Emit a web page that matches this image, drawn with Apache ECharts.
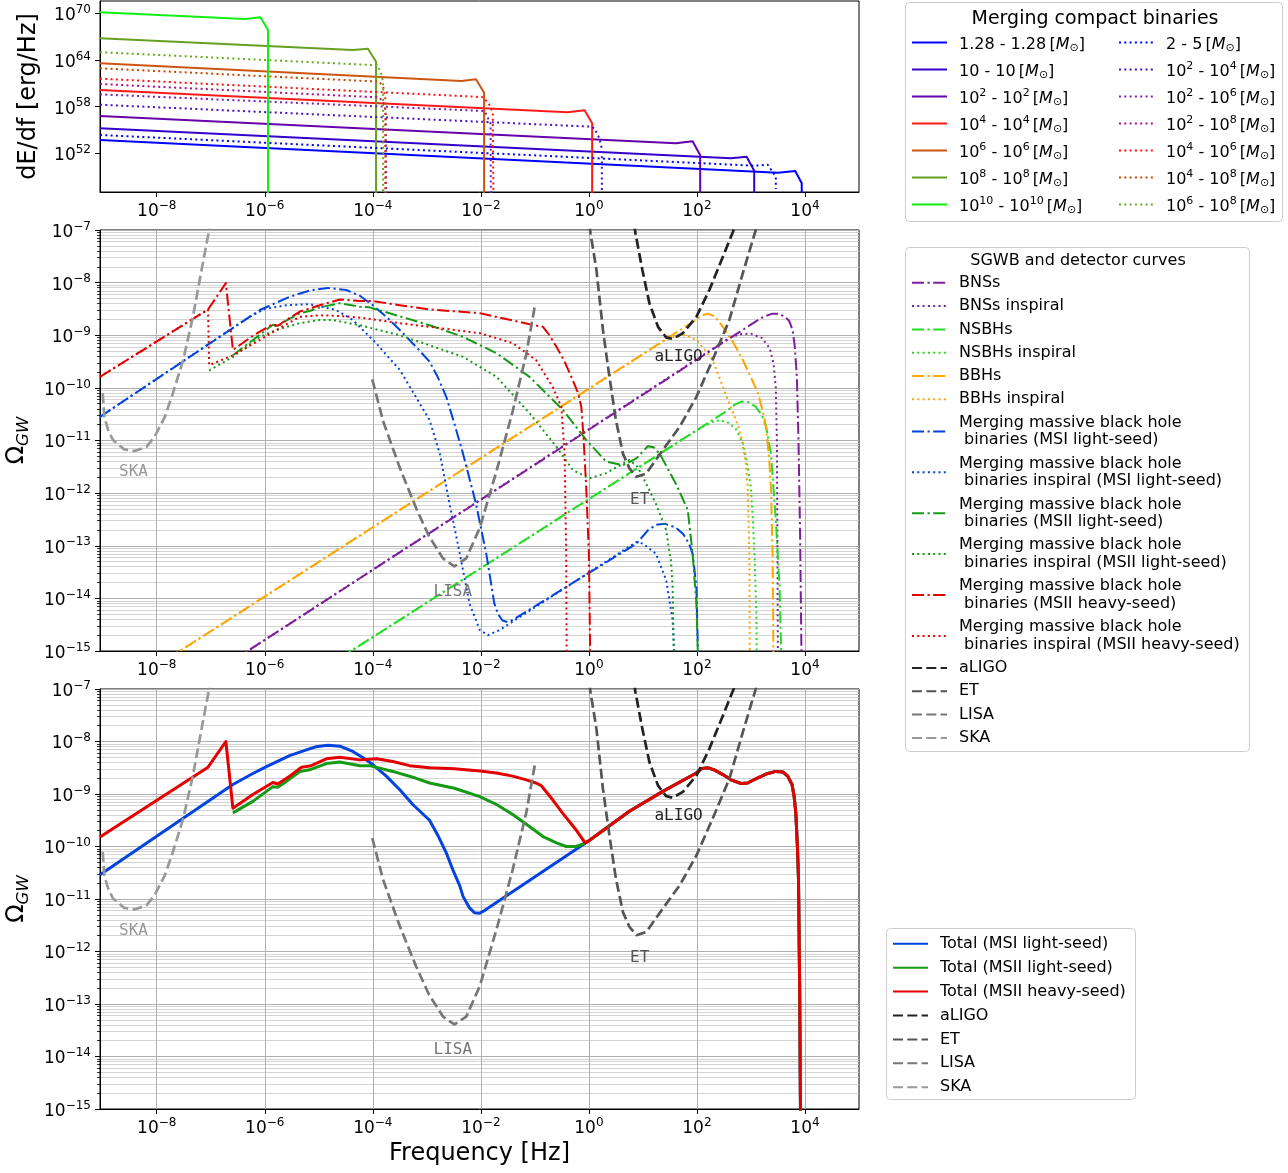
<!DOCTYPE html>
<html>
<head>
<meta charset="utf-8">
<title>SGWB from merging compact binaries</title>
<script src="https://cdn.jsdelivr.net/npm/echarts@6/dist/echarts.min.js"></script>
<style>
  html, body { margin: 0; padding: 0; background: #fff; overflow: hidden; }
  #chart { width: 1288px; height: 1173px; }
</style>
</head>
<body>
<div id="chart"></div>
<script>
// every curve is a list of [log10 f, log10 value] pairs

// top panel: dE/df of single merging binaries
const eq128 = [[-9.05, 53.71], [3.5, 49.51], [3.82, 49.73], [3.94, 48.15], [3.94, 40]]
const eq10 = [[-9.05, 55.21], [2.63, 51.36], [2.92, 51.57], [3.06, 49.77], [3.06, 40]]
const eq1e2 = [[-9.05, 56.8], [1.61, 53.29], [1.92, 53.55], [2.06, 51.75], [2.06, 40]]
const eq1e4 = [[-9.05, 60.14], [-0.39, 57.27], [-0.08, 57.53], [0.06, 55.86], [0.06, 40]]
const eq1e6 = [[-9.05, 63.57], [-2.36, 61.3], [-2.09, 61.52], [-1.94, 59.79], [-1.94, 40]]
const eq1e8 = [[-9.05, 66.79], [-4.37, 65.28], [-4.09, 65.45], [-3.94, 63.78], [-3.94, 40]]
const eq1e10 = [[-9.05, 70.13], [-6.37, 69.27], [-6.08, 69.49], [-5.94, 67.85], [-5.94, 40]]
const mix2_5 = [[-9.05, 54.36], [3.06, 50.41], [3.31, 50.54], [3.46, 49.0], [3.46, 47.4]]
const mix1e2_1e4 = [[-9.05, 58.25], [0.02, 55.43], [0.1, 55.25], [0.19, 54.0], [0.24, 52.6], [0.24, 40]]
const mix1e2_1e6 = [[-9.05, 59.58], [-1.93, 57.44], [-1.88, 56.7], [-1.82, 55.8], [-1.81, 40]]
const mix1e2_1e8 = [[-9.05, 60.91], [-4.0, 59.23], [-3.88, 59.22], [-3.8, 58.4], [-3.76, 57.4], [-3.75, 40]]
const mix1e4_1e6 = [[-9.05, 61.59], [-2.09, 59.27], [-1.97, 59.22], [-1.86, 58.5], [-1.78, 57.3], [-1.76, 40]]
const mix1e4_1e8 = [[-9.05, 62.93], [-4.0, 61.25], [-3.88, 61.24], [-3.8, 60.4], [-3.77, 59.3], [-3.77, 40]]
const mix1e6_1e8 = [[-9.05, 64.99], [-4.05, 63.35], [-3.93, 63.4], [-3.85, 62.4], [-3.81, 61.2], [-3.81, 40]]

const equalNames = ['1.28 - 1.28', '10 - 10', '10^2 - 10^2', '10^4 - 10^4', '10^6 - 10^6', '10^8 - 10^8', '10^10 - 10^10']
const mixedNames = ['2 - 5', '10^2 - 10^4', '10^2 - 10^6', '10^2 - 10^8', '10^4 - 10^6', '10^4 - 10^8', '10^6 - 10^8']

// middle panel: SGWB of each population
const bns = [[-6.6, -15.19], [3.1, -8.73], [3.25, -8.64], [3.4, -8.59], [3.5, -8.59], [3.62, -8.64], [3.71, -8.73], [3.77, -8.9], [3.81, -9.2], [3.85, -9.8], [3.88, -11.0], [3.91, -12.8], [3.94, -15.5]]
const bnsInspiral = [[-6.6, -15.19], [2.6, -9.05], [2.8, -8.98], [3.0, -8.97], [3.2, -9.05], [3.35, -9.25], [3.42, -9.55], [3.46, -10.0], [3.48, -11.0], [3.49, -13.0], [3.5, -15.5]]
const nsbh = [[-4.6, -15.13], [2.55, -10.44], [2.7, -10.32], [2.82, -10.26], [2.95, -10.27], [3.09, -10.36], [3.2, -10.52], [3.28, -10.74], [3.37, -11.25], [3.46, -12.51], [3.53, -13.78], [3.57, -15.5]]
const nsbhInspiral = [[-4.6, -15.13], [2.1, -10.74], [2.35, -10.62], [2.55, -10.64], [2.72, -10.78], [2.85, -11.05], [2.94, -11.5], [3.0, -11.9], [3.04, -12.6], [3.07, -13.3], [3.1, -14.3], [3.11, -15.5]]
const bbh = [[-7.8, -15.15], [1.95, -8.73], [2.08, -8.63], [2.2, -8.59], [2.33, -8.64], [2.48, -8.84], [2.65, -9.1], [2.85, -9.47], [3.0, -9.8], [3.13, -10.1], [3.22, -10.45], [3.28, -10.74], [3.34, -11.4], [3.37, -11.88], [3.4, -13.15], [3.42, -15.5]]
const bbhInspiral = [[-7.8, -15.15], [1.4, -9.1], [1.6, -9.02], [1.8, -9.0], [2.0, -9.1], [2.15, -9.28], [2.29, -9.47], [2.45, -9.9], [2.6, -10.3], [2.72, -10.6], [2.82, -10.93], [2.9, -11.4], [2.94, -11.88], [2.97, -13.15], [2.98, -15.5]]
const msi = [[-9.05, -10.55], [-6.09, -8.52], [-5.54, -8.27], [-5.17, -8.15], [-4.83, -8.1], [-4.49, -8.14], [-4.24, -8.25], [-4.0, -8.43], [-3.75, -8.65], [-3.5, -8.9], [-3.2, -9.22], [-2.95, -9.5], [-2.8, -9.79], [-2.64, -10.17], [-2.49, -10.68], [-2.33, -11.25], [-2.09, -12.2], [-1.9, -13.15], [-1.75, -14.1], [-1.68, -14.3], [-1.6, -14.42], [-1.5, -14.45], [-1.41, -14.41], [0.88, -12.96], [1.1, -12.7], [1.25, -12.6], [1.4, -12.58], [1.6, -12.65], [1.74, -12.77], [1.85, -12.95], [1.92, -13.15], [1.99, -13.78], [2.03, -15.5]]
const msiInspiral = [[-9.05, -10.55], [-6.3, -8.66], [-6.0, -8.5], [-5.6, -8.43], [-5.17, -8.41], [-4.68, -8.52], [-4.37, -8.71], [-3.94, -9.15], [-3.5, -9.66], [-2.95, -10.61], [-2.76, -11.25], [-2.58, -12.2], [-2.39, -13.15], [-2.21, -14.1], [-2.02, -14.6], [-1.87, -14.7], [-1.65, -14.6], [-1.47, -14.48], [0.88, -12.93], [1.0, -12.96], [1.24, -13.15], [1.43, -13.65], [1.55, -14.41], [1.6, -15.5]]
const msii = [[-6.59, -9.38], [-6.09, -8.99], [-5.85, -8.8], [-5.76, -8.84], [-5.6, -8.72], [-5.35, -8.58], [-5.17, -8.54], [-4.98, -8.47], [-4.61, -8.39], [-4.24, -8.46], [-4.06, -8.47], [-3.63, -8.6], [-2.95, -8.81], [-2.33, -9.03], [-1.71, -9.34], [-1.1, -9.79], [-0.48, -10.42], [-0.05, -10.99], [0.32, -11.4], [0.63, -11.47], [0.88, -11.34], [1.09, -11.11], [1.2, -11.13], [1.31, -11.25], [1.61, -11.82], [1.83, -12.32], [1.92, -13.15], [1.99, -14.1], [2.03, -15.5]]
const msiiInspiral = [[-7.03, -9.67], [-6.59, -9.41], [-6.09, -9.03], [-5.79, -8.9], [-5.35, -8.77], [-4.98, -8.71], [-4.74, -8.71], [-4.24, -8.81], [-3.5, -9.0], [-2.95, -9.19], [-2.33, -9.41], [-1.71, -9.79], [-1.1, -10.48], [-0.6, -11.12], [-0.3, -11.56], [0.01, -11.72], [0.32, -11.62], [0.75, -11.37], [0.9, -11.5], [1.06, -11.82], [1.24, -12.2], [1.43, -12.7], [1.52, -13.3], [1.55, -13.78], [1.58, -15.5]]
const msiiHeavy = [[-9.05, -9.79], [-7.05, -8.51], [-6.72, -8.01], [-6.59, -9.28], [-6.22, -9.01], [-5.85, -8.79], [-5.76, -8.82], [-5.54, -8.67], [-5.35, -8.55], [-5.14, -8.48], [-4.98, -8.43], [-4.61, -8.32], [-4.24, -8.35], [-4.0, -8.35], [-3.5, -8.43], [-2.95, -8.51], [-2.02, -8.58], [-1.1, -8.79], [-0.85, -8.84], [-0.73, -9.0], [-0.6, -9.22], [-0.45, -9.5], [-0.3, -9.85], [-0.2, -10.1], [-0.14, -10.36], [-0.1, -10.93], [-0.05, -11.88], [0.0, -13.15], [0.03, -15.5]]
const msiiHeavyInspiral = [[-9.05, -9.79], [-7.05, -8.51], [-7.03, -9.57], [-6.59, -9.38], [-6.09, -9.09], [-5.7, -8.85], [-5.35, -8.65], [-4.98, -8.62], [-4.5, -8.64], [-4.12, -8.68], [-3.5, -8.77], [-2.95, -8.84], [-2.02, -8.96], [-1.41, -9.15], [-0.98, -9.47], [-0.67, -9.98], [-0.51, -10.36], [-0.45, -11.25], [-0.42, -13.15], [-0.41, -15.5]]

// detector sensitivity curves (both lower panels)
const aligo = [[0.84, -6.9], [0.86, -7.05], [0.99, -7.76], [1.12, -8.39], [1.28, -8.84], [1.43, -9.04], [1.55, -9.07], [1.74, -8.96], [1.99, -8.65], [2.23, -8.14], [2.48, -7.51], [2.68, -7.0], [2.72, -6.9]]
const et = [[0.01, -6.9], [0.03, -7.06], [0.14, -7.76], [0.26, -8.9], [0.38, -9.79], [0.5, -10.61], [0.63, -11.25], [0.75, -11.53], [0.88, -11.69], [1.06, -11.63], [1.37, -11.18], [1.68, -10.74], [1.99, -10.17], [2.29, -9.47], [2.6, -8.71], [2.85, -7.82], [3.08, -7.03], [3.12, -6.9]]
const lisa = [[-4.01, -9.84], [-3.81, -10.63], [-3.5, -11.52], [-3.2, -12.28], [-2.96, -12.82], [-2.7, -13.24], [-2.49, -13.39], [-2.27, -13.24], [-2.02, -12.66], [-1.71, -11.58], [-1.41, -10.44], [-1.16, -9.36], [-1.0, -8.44]]
const ska = [[-9.0, -10.1], [-8.97, -10.55], [-8.9, -10.8], [-8.81, -10.99], [-8.6, -11.17], [-8.41, -11.2], [-8.19, -11.12], [-8.04, -10.93], [-7.85, -10.55], [-7.7, -10.1], [-7.51, -9.47], [-7.33, -8.65], [-7.17, -7.76], [-7.03, -7.0], [-6.98, -6.7]]
const detectorNames = ['aLIGO', 'ET', 'LISA', 'SKA']
const detectorLabelF = [1.66, 0.94, -2.52, -8.43]
const detectorLabelOmega = [-9.41, -12.13, -13.88, -11.6]

// bottom panel: totals, sharing the high-frequency tail
const totalMsi = [[-9.05, -10.54], [-6.59, -8.82], [-6.22, -8.61], [-5.97, -8.48], [-5.54, -8.27], [-5.23, -8.16], [-5.05, -8.1], [-4.83, -8.07], [-4.61, -8.09], [-4.37, -8.19], [-4.18, -8.31], [-4.0, -8.44], [-3.75, -8.66], [-3.5, -8.92], [-3.26, -9.2], [-2.95, -9.5], [-2.8, -9.78], [-2.64, -10.12], [-2.52, -10.44], [-2.39, -10.75], [-2.33, -10.95], [-2.21, -11.17], [-2.12, -11.26], [-2.02, -11.27], [-1.93, -11.22], [-1.85, -11.16]]
const totalMsii = [[-6.59, -9.36], [-6.22, -9.14], [-5.85, -8.86], [-5.76, -8.87], [-5.6, -8.76], [-5.35, -8.57], [-5.17, -8.54], [-4.86, -8.42], [-4.61, -8.39], [-4.24, -8.46], [-4.06, -8.46], [-3.63, -8.57], [-3.26, -8.68], [-2.95, -8.79], [-2.49, -8.89], [-2.02, -9.05], [-1.71, -9.2], [-1.41, -9.39], [-1.1, -9.62], [-0.85, -9.81], [-0.6, -9.93], [-0.42, -10.0], [-0.24, -10.0], [-0.1, -9.95]]
const totalMsiiHeavy = [[-9.05, -9.82], [-7.05, -8.49], [-6.72, -8.0], [-6.59, -9.27], [-6.22, -9.01], [-5.85, -8.78], [-5.76, -8.81], [-5.54, -8.66], [-5.32, -8.49], [-5.14, -8.46], [-4.86, -8.33], [-4.61, -8.3], [-4.24, -8.35], [-3.93, -8.33], [-3.63, -8.38], [-3.32, -8.46], [-2.95, -8.5], [-2.49, -8.52], [-2.02, -8.56], [-1.71, -8.6], [-1.41, -8.66], [-1.16, -8.73], [-0.98, -8.79], [-0.88, -8.84], [-0.82, -8.92], [-0.67, -9.11], [-0.49, -9.36], [-0.24, -9.68], [-0.07, -9.93]]
const totalTail = [[0.0, -9.89], [0.75, -9.33], [1.37, -8.95], [1.99, -8.6], [2.08, -8.52], [2.2, -8.5], [2.32, -8.54], [2.48, -8.63], [2.63, -8.73], [2.82, -8.8], [2.94, -8.79], [3.09, -8.71], [3.28, -8.62], [3.46, -8.57], [3.59, -8.58], [3.68, -8.66], [3.76, -8.82], [3.8, -9.05], [3.83, -9.36], [3.86, -10.0], [3.88, -10.63], [3.9, -12.54], [3.92, -15.5]]

// axes (log10 units)
const freqTicks = [-8, -6, -4, -2, 0, 2, 4]
const energyTicks = [52, 58, 64, 70]
const omegaTicks = [-15, -14, -13, -12, -11, -10, -9, -8, -7]

const FONT = 'DejaVu Sans'
const MONO = 'DejaVu Sans Mono'
const DASHDOT = [12, 3.5, 2.2, 3.5]
const DOTTED = [2, 3.3]
const DASHED = [10, 4.3]

const omegaMinor = []
for (let n = -15; n < -7; n++) {
  for (let k = 2; k <= 9; k++) omegaMinor.push(n + Math.log10(k))
}

const tickRich = {
  b: { fontFamily: FONT, fontSize: 17, lineHeight: 22, verticalAlign: 'bottom', color: '#000' },
  sup: { fontFamily: FONT, fontSize: 12, lineHeight: 22, verticalAlign: 'top', padding: [1.6, 0, 0, 0], color: '#000' },
}
const pow10 = (v) => {
  const e = Math.round(v)
  return `{b|10}{sup|${e < 0 ? '\u2212' + -e : e}}`
}

const massRich = {
  b: { fontFamily: FONT, fontSize: 16, lineHeight: 21, verticalAlign: 'bottom', color: '#000' },
  it: { fontFamily: FONT, fontSize: 16, fontStyle: 'italic', lineHeight: 21, verticalAlign: 'bottom', color: '#000' },
  sup: { fontFamily: FONT, fontSize: 11, lineHeight: 21, verticalAlign: 'top', padding: [2, 0, 0, 0], color: '#000' },
  sub: { fontFamily: FONT, fontSize: 11, lineHeight: 21, verticalAlign: 'top', padding: [10.5, 0, 0, 0], color: '#000' },
}
const massLabel = (name) =>
  name.split(/\^(\d+)/).map((part, i) => (i % 2 ? `{sup|${part}}` : `{b|${part}}`)).join('') +
  '{b|\u2009[}{it|M}{sub|\u2299}{b|]}'

const line = (name, data, xi, yi, color, width, dash) => ({
  name,
  type: 'line',
  data,
  xAxisIndex: xi,
  yAxisIndex: yi,
  symbol: 'none',
  showSymbol: false,
  silent: true,
  clip: true,
  emphasis: { disabled: true },
  lineStyle: { color, width, type: dash || 'solid', cap: 'butt', join: 'round' },
  itemStyle: { color },
})

const freqAxis = (gridIndex, name) => ({
  type: 'value',
  gridIndex,
  min: -9.05,
  max: 5.0,
  axisLine: { show: true, onZero: false, lineStyle: { color: '#000', width: 1 } },
  axisTick: { show: true, customValues: freqTicks, length: 5, lineStyle: { color: '#000', width: 1 } },
  axisLabel: { customValues: freqTicks, formatter: pow10, rich: tickRich, margin: 6 },
  splitLine: { show: gridIndex > 0, lineStyle: { color: '#b0b0b0', width: 1 } },
  name,
  nameLocation: 'middle',
  nameGap: 31,
  nameTextStyle: { fontFamily: FONT, fontSize: 24, lineHeight: 28, color: '#000' },
})

const omegaAxis = (gridIndex, minor) => ({
  type: 'value',
  gridIndex,
  min: -15,
  max: -7,
  position: 'left',
  axisLine: { show: !minor, onZero: false, lineStyle: { color: '#000', width: 1 } },
  axisTick: {
    show: true,
    customValues: minor ? omegaMinor : omegaTicks,
    length: minor ? 3 : 5,
    lineStyle: { color: '#000', width: minor ? 0.8 : 1 },
  },
  axisLabel: { show: !minor, customValues: omegaTicks, formatter: pow10, rich: tickRich, margin: 9 },
  splitLine: { show: true, lineStyle: { color: minor ? '#c8c8c8' : '#b0b0b0', width: minor ? 0.8 : 1 } },
  name: minor ? '' : '{o|\u03a9}{s|GW}',
  nameLocation: 'middle',
  nameGap: 71,
  nameTextStyle: {
    rich: {
      o: { fontFamily: FONT, fontSize: 24, lineHeight: 30, verticalAlign: 'bottom', color: '#000' },
      s: { fontFamily: FONT, fontSize: 16.5, fontStyle: 'italic', lineHeight: 30, verticalAlign: 'top', padding: [16.6, 0, 0, 0], color: '#000' },
    },
  },
})

const energyAxis = {
  type: 'value',
  gridIndex: 0,
  min: 47.03,
  max: 71.58,
  axisLine: { show: true, onZero: false, lineStyle: { color: '#000', width: 1 } },
  axisTick: { show: true, customValues: energyTicks, length: 5, lineStyle: { color: '#000', width: 1 } },
  axisLabel: { customValues: energyTicks, formatter: pow10, rich: tickRich, margin: 9 },
  splitLine: { show: false },
  name: 'dE/df [erg/Hz]',
  nameLocation: 'middle',
  nameGap: 50,
  nameTextStyle: { fontFamily: FONT, fontSize: 24, lineHeight: 28, color: '#000' },
}

const equalColors = ['#0000ff', '#3300cc', '#6600aa', '#ff1a1a', '#cc5511', '#66a022', '#11ee11']
const mixedColors = ['#0000ff', '#4411cc', '#7722bb', '#aa1188', '#ff1111', '#cc4400', '#66aa22']
const equalData = [eq128, eq10, eq1e2, eq1e4, eq1e6, eq1e8, eq1e10]
const mixedData = [mix2_5, mix1e2_1e4, mix1e2_1e6, mix1e2_1e8, mix1e4_1e6, mix1e4_1e8, mix1e6_1e8]

const MBH = 'Merging massive black hole\n binaries'
const populations = [
  ['BNSs', bns, '#7e1e9c', DASHDOT],
  ['BNSs inspiral', bnsInspiral, '#7e1e9c', DOTTED],
  ['NSBHs', nsbh, '#22dd22', DASHDOT],
  ['NSBHs inspiral', nsbhInspiral, '#22dd22', DOTTED],
  ['BBHs', bbh, '#ffa500', DASHDOT],
  ['BBHs inspiral', bbhInspiral, '#ffa500', DOTTED],
  [`${MBH} (MSI light-seed)`, msi, '#0343df', DASHDOT],
  [`${MBH} inspiral (MSI light-seed)`, msiInspiral, '#0343df', DOTTED],
  [`${MBH} (MSII light-seed)`, msii, '#159a15', DASHDOT],
  [`${MBH} inspiral (MSII light-seed)`, msiiInspiral, '#159a15', DOTTED],
  [`${MBH} (MSII heavy-seed)`, msiiHeavy, '#e50000', DASHDOT],
  [`${MBH} inspiral (MSII heavy-seed)`, msiiHeavyInspiral, '#e50000', DOTTED],
]
const detectors = [aligo, et, lisa, ska]
const detectorColors = ['#222222', '#555555', '#777777', '#999999']
const totals = [
  ['Total (MSI light-seed)', totalMsi.concat(totalTail), '#0343df'],
  ['Total (MSII light-seed)', totalMsii.concat(totalTail), '#159a15'],
  ['Total (MSII heavy-seed)', totalMsiiHeavy.concat(totalTail), '#e50000'],
]

const series = []
equalData.forEach((d, i) => series.push(line(equalNames[i], d, 0, 0, equalColors[i], 2)))
mixedData.forEach((d, i) => series.push(line(mixedNames[i], d, 0, 0, mixedColors[i], 2, DOTTED)))
populations.forEach(([name, d, color, dash]) => series.push(line(name, d, 1, 1, color, 2, dash)))
totals.forEach(([name, d, color]) => series.push(line(name, d, 2, 3, color, 3)))

// detector curves and their in-plot labels, once per lower panel
;[[1, 1], [2, 3]].forEach(([xi, yi]) => {
  detectors.forEach((d, i) => series.push(line(detectorNames[i], d, xi, yi, detectorColors[i], 2.7, DASHED)))
  series.push({
    type: 'scatter',
    xAxisIndex: xi,
    yAxisIndex: yi,
    silent: true,
    symbol: 'circle',
    symbolSize: 1,
    itemStyle: { color: 'rgba(0,0,0,0)' },
    data: detectorNames.map((name, i) => ({
      name,
      value: [detectorLabelF[i], detectorLabelOmega[i]],
      label: { color: detectorColors[i] },
    })),
    label: { show: true, position: 'inside', formatter: '{b}', fontFamily: MONO, fontSize: 16, opacity: 1 },
    z: 5,
  })
})

// legend icons: line only, the marker in the middle is hidden
const legendBase = {
  orient: 'vertical',
  selectedMode: false,
  padding: 0,
  itemWidth: 35,
  itemHeight: 14,
  itemStyle: { opacity: 0, borderWidth: 0 },
  backgroundColor: 'transparent',
}
const plainText = { fontFamily: FONT, fontSize: 16, lineHeight: 17.6, color: '#000', padding: [0, 0, 0, 7] }

const legendBox = (x, y, w, h) => ({
  type: 'rect',
  shape: { x, y, width: w, height: h, r: 4 },
  style: { fill: 'rgba(255,255,255,0.8)', stroke: '#cccccc', lineWidth: 1 },
  silent: true,
  z: -1,
})
const legendTitle = (text, x, y, size) => ({
  type: 'text',
  x,
  y,
  style: { text, fontFamily: FONT, fontSize: size, fill: '#000', textAlign: 'center', textVerticalAlign: 'middle' },
  silent: true,
})

// plot areas are fixed in pixels; labels may overflow them freely
const panel = (top, height) => ({
  left: 100,
  top,
  width: 759,
  height,
  show: true,
  borderColor: '#000',
  borderWidth: 1,
  backgroundColor: 'transparent',
  containLabel: false,
  outerBoundsMode: 'none',
})

const option = {
  animation: false,
  backgroundColor: '#fff',
  textStyle: { fontFamily: FONT },
  grid: [panel(1, 191), panel(230, 421), panel(689, 420)],
  xAxis: [freqAxis(0, ''), freqAxis(1, ''), freqAxis(2, 'Frequency [Hz]')],
  yAxis: [energyAxis, omegaAxis(1, false), omegaAxis(1, true), omegaAxis(2, false), omegaAxis(2, true)],
  legend: [
    {
      ...legendBase,
      left: 911,
      top: 32,
      itemGap: 5.5,
      data: equalNames,
      formatter: massLabel,
      textStyle: { padding: [0, 0, 0, 7], rich: massRich },
    },
    {
      ...legendBase,
      left: 1118,
      top: 32,
      itemGap: 5.5,
      data: mixedNames,
      formatter: massLabel,
      textStyle: { padding: [0, 0, 0, 7], rich: massRich },
    },
    {
      ...legendBase,
      left: 911,
      top: 274,
      itemGap: 5.7,
      data: populations.map((p) => p[0]).concat(detectorNames),
      textStyle: plainText,
    },
    {
      ...legendBase,
      left: 892,
      top: 935,
      itemGap: 6.3,
      data: totals.map((t) => t[0]).concat(detectorNames),
      textStyle: plainText,
    },
  ],
  graphic: [
    legendBox(905.5, 2.5, 377, 219),
    legendTitle('Merging compact binaries', 1095, 19, 19),
    legendBox(905.5, 247.5, 344, 504),
    legendTitle('SGWB and detector curves', 1078, 261, 16),
    legendBox(886.5, 928.5, 249, 171),
  ],
  series,
}

const chart = echarts.init(document.getElementById('chart'), null, { renderer: 'canvas' })
chart.setOption(option)
</script>
</body>
</html>
